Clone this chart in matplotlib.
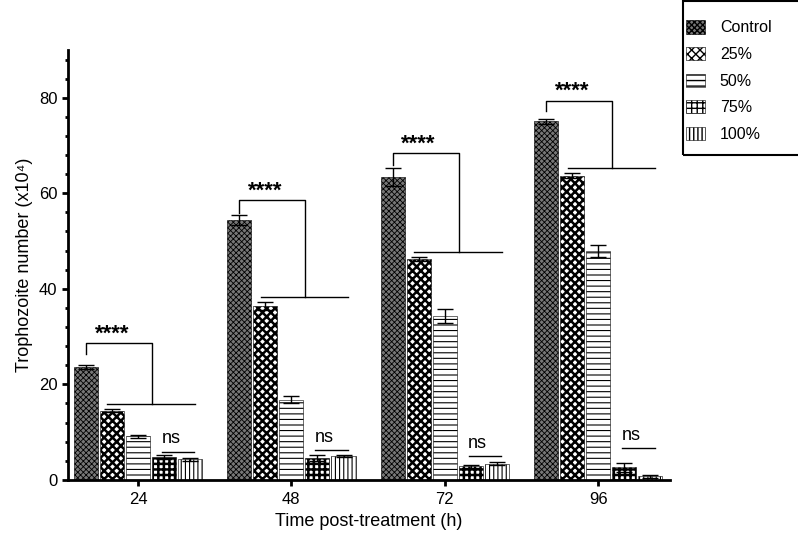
import matplotlib.pyplot as plt
import matplotlib as mpl
import numpy as np
from matplotlib.ticker import MultipleLocator
from matplotlib.patches import Rectangle

plt.rcParams['font.family'] = ['Liberation Sans', 'DejaVu Sans']

# Datos
horas = ['24', '48', '72', '96']
grupos = ['Control', '25%', '50%', '75%', '100%']
control = [23.6, 54.4, 63.4, 75.1]
c25 = [14.5, 36.4, 46.3, 63.7]
c50 = [9.1, 16.8, 34.3, 47.9]
c75 = [4.8, 4.6, 2.8, 2.6]
c100 = [4.3, 4.9, 3.4, 0.7]
err_control = [0.4, 1.0, 1.8, 0.5]
err_25 = [0.4, 0.9, 0.4, 0.5]
err_50 = [0.3, 0.8, 1.5, 1.3]
err_75 = [0.5, 0.6, 0.3, 0.9]
err_100 = [0.3, 0.2, 0.4, 0.3]

# niveles de los corchetes (****) y de "ns"
brk_low = [26.3, 55.8, 65.9, 77.3]
brk_top = [28.6, 58.6, 68.4, 79.4]
brk_line = [15.8, 38.3, 47.6, 65.3]
ns_line = [5.9, 6.2, 4.9, 6.7]

valores = [control, c25, c50, c75, c100]
errores = [err_control, err_25, err_50, err_75, err_100]
hatches = ['xxxxxx', 'xxxx', '---', '+++', '||||']
caras = ['#777777', 'white', 'white', 'white', 'white']
hatch_lw = [0.6, 1.8, 0.8, 1.8, 0.8]

fig = plt.figure(figsize=(7.98, 5.49), dpi=100)
ax = fig.add_axes([0.085, 0.126, 0.755, 0.783])

x = np.arange(len(horas))
paso = 0.17
ancho = 0.157

for i, (vals, errs) in enumerate(zip(valores, errores)):
    with mpl.rc_context({'hatch.linewidth': hatch_lw[i]}):
        pos = x + (i - 2) * paso
        ax.bar(pos, vals, width=ancho, facecolor=caras[i], edgecolor='black',
               linewidth=0.4, hatch=hatches[i], label=grupos[i])
    ax.errorbar(pos, vals, yerr=errs, fmt='none', ecolor='black',
                elinewidth=1, capsize=6, capthick=1)

# corchetes de significancia
for g in range(len(horas)):
    xl = g - 2 * paso
    xr = g + 0.09
    ax.plot([xl, xl, xr, xr], [brk_low[g], brk_top[g], brk_top[g], brk_line[g]],
            color='black', lw=1)
    ax.plot([g - 0.2, g + 0.37], [brk_line[g], brk_line[g]], color='black', lw=1)
    ax.text(g - 0.17, brk_top[g] - 0.3, '****', ha='center', va='bottom',
            fontsize=16, fontweight='bold')
    ax.plot([g + 0.155, g + 0.367], [ns_line[g], ns_line[g]], color='black', lw=1)
    ax.text(g + 0.215, ns_line[g] + 0.9, 'ns', ha='center', va='bottom', fontsize=13)

ax.set_xlim(-0.457, 3.47)
ax.set_ylim(0, 90)
ax.set_xticks(x)
ax.set_xticklabels(horas)
ax.set_yticks([0, 20, 40, 60, 80])
ax.yaxis.set_minor_locator(MultipleLocator(4))
ax.tick_params(axis='both', which='major', direction='out', length=4, width=2,
               labelsize=12)
ax.tick_params(axis='y', which='minor', direction='out', length=2.5, width=2)
ax.tick_params(axis='x', which='major', pad=5)

for s in ['top', 'right']:
    ax.spines[s].set_visible(False)
for s in ['left', 'bottom']:
    ax.spines[s].set_linewidth(2)

ax.set_ylabel('Trophozoite number (x10⁴)', fontsize=13)
ax.set_xlabel('Time post-treatment (h)', fontsize=13)

# leyenda sin marco + caja dibujada aparte
fig.legend(loc='upper left', bbox_to_anchor=(0.86, 0.963), fontsize=11.5,
           frameon=False, handlelength=1.15, handleheight=0.9, labelspacing=0.72,
           borderpad=0, borderaxespad=0, handletextpad=0.95)
fig.patches.append(Rectangle((0.856, 0.718), 0.2, 0.281, transform=fig.transFigure,
                             fill=False, edgecolor='black', linewidth=1.5))

plt.savefig('out.png', dpi=100)
